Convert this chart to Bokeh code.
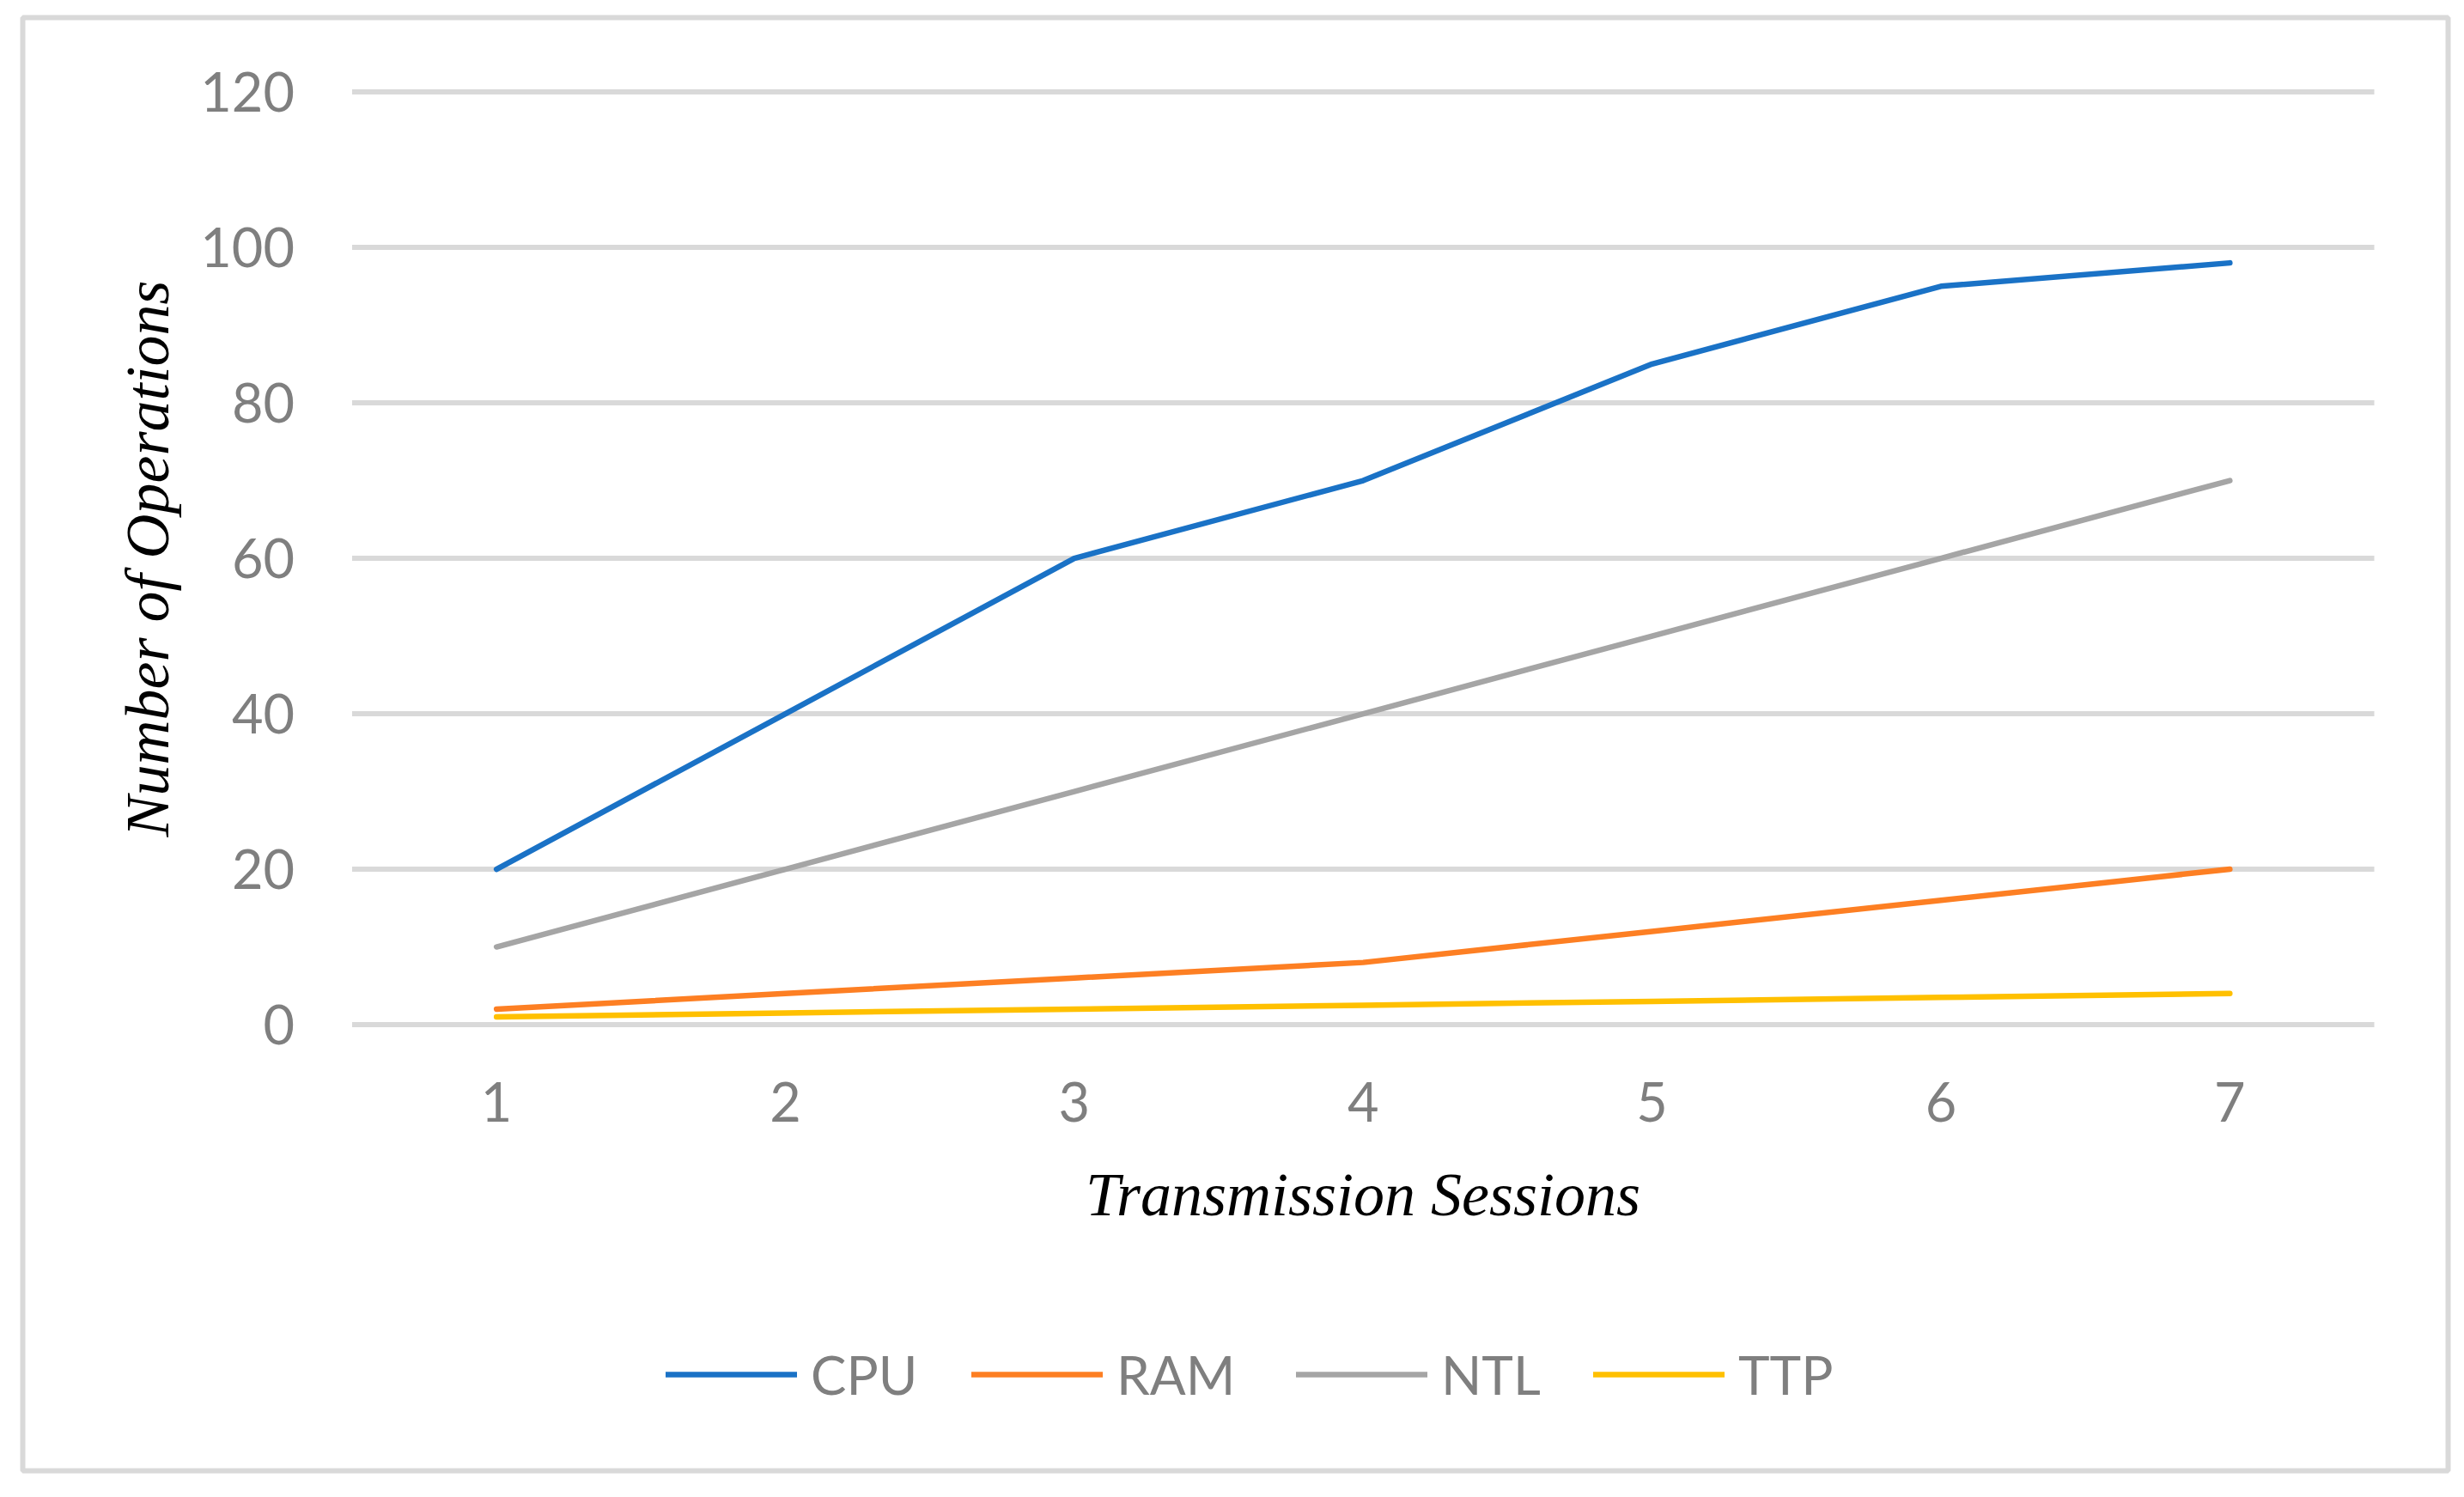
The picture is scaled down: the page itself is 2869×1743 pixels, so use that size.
from bokeh.plotting import figure
from bokeh.models import Legend, LegendItem, FixedTicker, Range1d
from bokeh.embed import file_html
from bokeh.resources import INLINE

sessions = [1, 2, 3, 4, 5, 6, 7]
cpu = [20, 40, 60, 70, 85, 95, 98]
ram = [2, 4, 6, 8, 12, 16, 20]
ntl = [10, 20, 30, 40, 50, 60, 70]
ttp = [1, 1.5, 2, 2.5, 3, 3.5, 4]
y_ticks = [0, 20, 40, 60, 80, 100, 120]

series = [("CPU", cpu, "#1a72c6"), ("RAM", ram, "#fd7f23"),
          ("NTL", ntl, "#a5a5a5"), ("TTP", ttp, "#ffc000")]

x_lo, x_hi = min(sessions) - 0.5, max(sessions) + 0.5

p = figure(frame_width=2824, frame_height=1692,
           x_range=Range1d(-0.640, 7.7556), y_range=Range1d(-57.40, 129.56),
           output_backend="svg", toolbar_location=None, title=None,
           min_border_left=26, min_border_right=8, min_border_top=20, min_border_bottom=12)
p.outline_line_color = "#d9d9d9"
p.outline_line_width = 6
p.background_fill_color = "white"
p.border_fill_color = "white"
p.xgrid.visible = False
p.ygrid.visible = False

# horizontal gridlines at the value ticks, spanning the category band
p.segment(x0=[x_lo] * len(y_ticks), x1=[x_hi] * len(y_ticks), y0=y_ticks, y1=y_ticks,
          line_color="#d9d9d9", line_width=6)

xa, ya = p.xaxis[0], p.yaxis[0]
xa.ticker = FixedTicker(ticks=sessions)
ya.ticker = FixedTicker(ticks=y_ticks)
xa.fixed_location = 0
ya.fixed_location = x_lo
xa.bounds = (x_lo, x_hi)
ya.bounds = (min(y_ticks), max(y_ticks))

for ax in (xa, ya):
    ax.axis_line_color = None
    ax.major_tick_line_color = None
    ax.minor_tick_line_color = None
    ax.major_tick_out = 0
    ax.major_tick_in = 0
    ax.minor_tick_out = 0
    ax.minor_tick_in = 0
    ax.major_label_text_font = "Lato"
    ax.major_label_text_font_size = "63px"
    ax.major_label_text_color = "#7f7f7f"
    ax.axis_label_text_font = "Liberation Serif"
    ax.axis_label_text_font_style = "italic"
    ax.axis_label_text_font_size = "72px"
    ax.axis_label_text_color = "black"

xa.axis_label = "Transmission Sessions"
ya.axis_label = "Number of Operations"
xa.major_label_standoff = 67
ya.major_label_standoff = 67
xa.axis_label_standoff = 41
ya.axis_label_standoff = 18

renderers = []
for name, vals, color in series:
    r = p.line(sessions, vals, line_color=color, line_width=6.5, line_join="round", line_cap="round")
    renderers.append((name, r))

legend_x = [749, 1105, 1483, 1829]
for (name, r), lx in zip(renderers, legend_x):
    lg = Legend(items=[LegendItem(label=name, renderers=[r])], location=(lx, 75),
                orientation="horizontal", padding=0, margin=0, spacing=0,
                glyph_width=153, glyph_height=50, label_standoff=16,
                label_text_font="Lato", label_text_font_size="62px",
                label_text_color="#7f7f7f", border_line_color=None,
                background_fill_alpha=0)
    p.add_layout(lg, "center")

open("out.html", "w").write(file_html(p, INLINE))
